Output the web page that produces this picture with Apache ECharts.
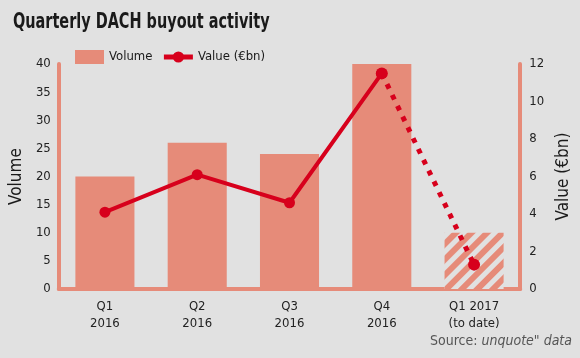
<!DOCTYPE html>
<html><head><meta charset="utf-8">
<script src="https://cdn.jsdelivr.net/npm/echarts@6/dist/echarts.min.js"></script>
<style>html,body{margin:0;padding:0;background:#e1e1e1;}#c{width:580px;height:358px;}</style>
</head><body><div id="c"></div>
<script>
const categories = ['Q1\n2016','Q2\n2016','Q3\n2016','Q4\n2016','Q1 2017\n(to date)'];
const volume = [20, 26, 24, 40, 10];
const valueBn = [4.1, 6.1, 4.6, 11.5, 1.3];
const leftTicks = [0,5,10,15,20,25,30,35,40];
const rightTicks = [0,2,4,6,8,10,12];

const FONT = '"DejaVu Sans Condensed","Liberation Sans",sans-serif';
const BAR = '#e68b79';
const RED = '#d7001c';
const BG = '#e1e1e1';

const barData = volume.map((v,i)=> i===volume.length-1 ? {value:v, itemStyle:{color:BG, decal:{symbol:'rect', color:BAR, dashArrayX:[1,0], dashArrayY:[6,5], rotation:-Math.PI/4}}} : v);
const solid = valueBn.map((v,i)=> i < valueBn.length-1 ? v : '-');
const dotted = valueBn.map((v,i)=> i >= valueBn.length-2 ? v : '-');

const chart = echarts.init(document.getElementById('c'));
chart.setOption({
  backgroundColor: BG,
  textStyle:{fontFamily:FONT},
  legend:{left:70, top:45, itemWidth:29, itemHeight:14, itemGap:9, textStyle:{fontFamily:FONT, fontSize:13, color:'#1a1a1a'},
    data:[{name:'Volume', icon:'rect'}, {name:'Value (€bn)', lineStyle:{width:5}}]},
  grid:{left:57, right:47, top:64, bottom:69},
  xAxis:{type:'category', data:categories, axisLine:{lineStyle:{color:BAR, width:4}}, axisTick:{show:false},
    axisLabel:{fontFamily:FONT, fontSize:13, color:'#222', lineHeight:17, margin:9}},
  yAxis:[
    {type:'value', min:0, max:40, interval:5, name:'Volume', nameLocation:'middle', nameGap:25, nameRotate:90,
      nameTextStyle:{fontFamily:FONT, fontSize:17, color:'#1a1a1a'},
      axisLine:{show:true, lineStyle:{color:BAR, width:4}}, axisTick:{show:false}, splitLine:{show:false},
      axisLabel:{fontFamily:FONT, fontSize:13, color:'#222', margin:8}},
    {type:'value', min:0, max:12, interval:2, name:'Value (€bn)', nameLocation:'middle', nameGap:26, nameRotate:90,
      nameTextStyle:{fontFamily:FONT, fontSize:17, color:'#1a1a1a'},
      axisLine:{show:true, lineStyle:{color:BAR, width:4}}, axisTick:{show:false}, splitLine:{show:false},
      axisLabel:{fontFamily:FONT, fontSize:13, color:'#222', margin:9}}
  ],
  series:[
    {name:'Volume', type:'bar', data:barData, barWidth:'64%', itemStyle:{color:BAR}, silent:true},
    {name:'Value (€bn)', type:'line', yAxisIndex:1, data:solid, color:RED, lineStyle:{width:4, color:RED},
      symbol:'circle', symbolSize:11, itemStyle:{color:RED}, z:5},
    {name:'Value (€bn)', type:'line', yAxisIndex:1, data:dotted, color:RED, lineStyle:{width:5, color:RED, type:[5,7], cap:'butt'},
      symbol:'circle', symbolSize:12, itemStyle:{color:RED}, z:5}
  ],
  graphic:[
    {type:'text', left:13, top:11, scaleX:0.73, style:{text:'Quarterly DACH buyout activity', fontFamily:FONT, fontWeight:'bold', fontSize:22, fill:'#1a1a1a'}},
    {type:'text', right:8, top:334, style:{text:'{n|Source: }{i|unquote" data}', rich:{n:{fontFamily:FONT, fontSize:14, fill:'#555'}, i:{fontFamily:FONT, fontSize:14, fontStyle:'italic', fill:'#555'}}}}
  ]
});
</script></body></html>
